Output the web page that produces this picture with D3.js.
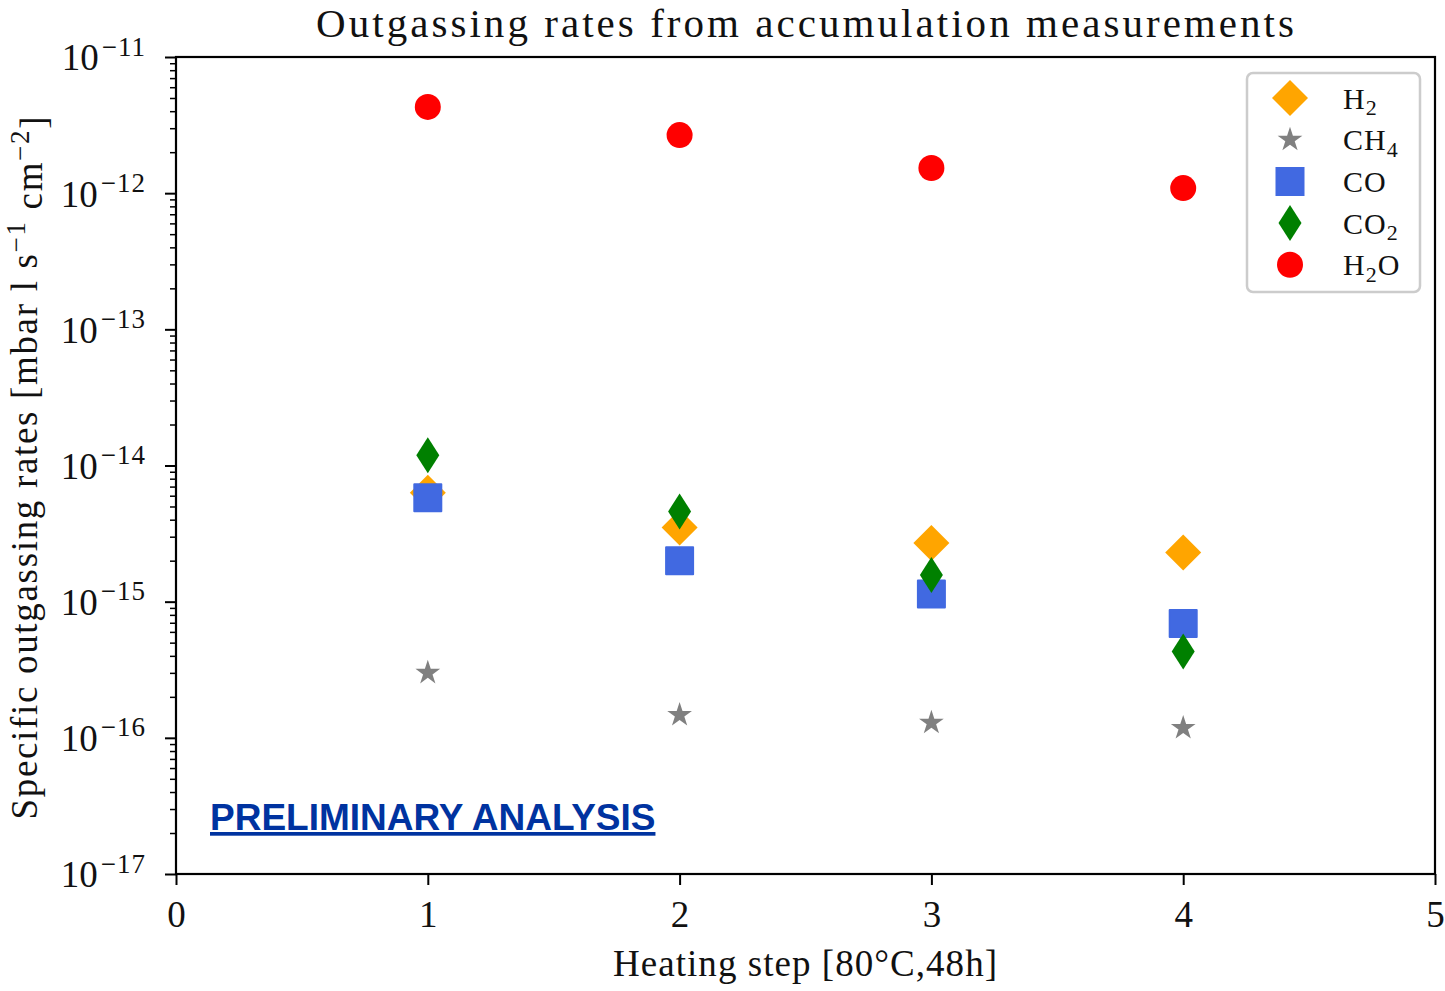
<!DOCTYPE html>
<html>
<head>
<meta charset="utf-8">
<script src="https://cdn.jsdelivr.net/npm/d3@7"></script>
<style>
  body { margin: 0; background: #fff; }
  text { font-family: "Liberation Serif", "DejaVu Serif", serif; fill: #111; }
</style>
</head>
<body>
<svg id="chart"></svg>
<script>
// heating steps
const steps = [1, 2, 3, 4];

// specific outgassing rates [mbar l s^-1 cm^-2]
const h2  = [6.3e-15, 3.5e-15, 2.7e-15, 2.3e-15];
const ch4 = [3.0e-16, 1.47e-16, 1.29e-16, 1.18e-16];
const co  = [5.8e-15, 2.0e-15, 1.14e-15, 6.9e-16];
const co2 = [1.19e-14, 4.6e-15, 1.57e-15, 4.3e-16];
const h2o = [4.3e-12, 2.67e-12, 1.53e-12, 1.09e-12];

const xTicks = [0, 1, 2, 3, 4, 5];
const yExps  = [-11, -12, -13, -14, -15, -16, -17];

const series = [
  {name: 'H', sub: '2', after: '',  values: h2,  color: 'orange',    shape: 'diamond'},
  {name: 'CH', sub: '4', after: '', values: ch4, color: 'gray',      shape: 'star'},
  {name: 'CO', sub: '', after: '',  values: co,  color: 'royalblue', shape: 'square'},
  {name: 'CO', sub: '2', after: '', values: co2, color: 'green',     shape: 'thin_diamond'},
  {name: 'H', sub: '2', after: 'O', values: h2o, color: 'red',       shape: 'circle'}
];

const width = 1445, height = 991;
const margin = {top: 57, right: 10, bottom: 117, left: 176};
const iw = 1435 - margin.left, ih = 874 - margin.top;

const svg = d3.select('#chart').attr('width', width).attr('height', height);
const g = svg.append('g').attr('transform', `translate(${margin.left},${margin.top})`);

const x = d3.scaleLinear().domain([0, 5]).range([0, iw]);
const y = d3.scaleLog().domain([1e-17, 1e-11]).range([ih, 0]);

// minor ticks on the log axis
let minor = [];
for (let e = -17; e < -11; e++) {
  for (let m = 2; m <= 9; m++) minor.push(m * Math.pow(10, e));
}
g.append('g')
  .call(d3.axisLeft(y).tickValues(minor).tickSize(6).tickFormat(''))
  .call(a => a.select('.domain').remove())
  .selectAll('line').attr('stroke', '#000').attr('stroke-width', 1.5);

const yAxis = g.append('g')
  .call(d3.axisLeft(y).tickValues(yExps.map(e => Math.pow(10, e))).tickSize(11).tickPadding(19).tickFormat(''));
yAxis.select('.domain').remove();
yAxis.selectAll('line').attr('stroke', '#000').attr('stroke-width', 2);
yAxis.selectAll('.tick text')
  .attr('fill', '#111').attr('font-family', null)
  .style('font-size', '37px')
  .attr('dy', '0.35em')
  .each(function(d) {
    const t = d3.select(this);
    const e = Math.round(Math.log10(d));
    t.append('tspan').text('10');
    t.append('tspan').attr('dx', 3).attr('dy', '-0.55em').style('font-size', '27px')
      .attr('letter-spacing', 1).text('\u2212' + (-e));
  });

const xAxis = g.append('g')
  .attr('transform', `translate(0,${ih})`)
  .call(d3.axisBottom(x).tickValues(xTicks).tickSize(11).tickPadding(16).tickFormat(d3.format('d')));
xAxis.select('.domain').remove();
xAxis.selectAll('line').attr('stroke', '#000').attr('stroke-width', 2);
xAxis.selectAll('text').attr('fill', '#111').attr('font-family', null).style('font-size', '37px');

// frame
g.append('rect')
  .attr('width', iw).attr('height', ih)
  .attr('fill', 'none').attr('stroke', '#000').attr('stroke-width', 2.2);

// marker shapes
function shapePath(shape) {
  if (shape === 'diamond') return 'M0,-18L18,0L0,18L-18,0Z';
  if (shape === 'thin_diamond') return 'M0,-18L11.5,0L0,18L-11.5,0Z';
  if (shape === 'square') return 'M-13.5,-13.5H13.5V13.5H-13.5Z';
  if (shape === 'circle') return d3.symbol(d3.symbolCircle, Math.PI * 13 * 13)();
  if (shape === 'star') {
    const pts = [];
    for (let i = 0; i < 10; i++) {
      const r = i % 2 === 0 ? 13 : 13 * 0.382;
      const a = -Math.PI / 2 + i * Math.PI / 5;
      pts.push([r * Math.cos(a), r * Math.sin(a)]);
    }
    return 'M' + pts.join('L') + 'Z';
  }
}

series.forEach(s => {
  g.append('g').selectAll('path')
    .data(s.values)
    .join('path')
    .attr('d', shapePath(s.shape))
    .attr('transform', (d, i) => `translate(${x(steps[i])},${y(d)})`)
    .attr('fill', s.color)
    .attr('stroke', s.shape === 'square' ? s.color : 'none')
    .attr('stroke-linejoin', 'round')
    .attr('stroke-width', 2);
});

// legend
const legend = svg.append('g').attr('transform', 'translate(1247,73)');
legend.append('rect')
  .attr('width', 173).attr('height', 219).attr('rx', 6)
  .attr('fill', '#fff').attr('stroke', '#ccc').attr('stroke-width', 2.5);
series.forEach((s, i) => {
  const row = legend.append('g').attr('transform', `translate(0,${25 + i * 41.7})`);
  row.append('path')
    .attr('d', shapePath(s.shape))
    .attr('transform', 'translate(43,0)')
    .attr('fill', s.color)
    .attr('stroke', s.shape === 'square' ? s.color : 'none')
    .attr('stroke-width', 2);
  const t = row.append('text').attr('x', 96).attr('dy', '0.35em').style('font-size', '30px')
    .attr('letter-spacing', 1);
  t.append('tspan').text(s.name);
  if (s.sub) t.append('tspan').attr('dy', '0.3em').style('font-size', '22px').text(s.sub);
  if (s.after) t.append('tspan').attr('dy', '-0.22em').text(s.after);
});

// title and axis labels
svg.append('text')
  .attr('x', 805).attr('y', 37)
  .attr('text-anchor', 'middle')
  .attr('textLength', 978).attr('lengthAdjust', 'spacing')
  .style('font-size', '41px')
  .text('Outgassing rates from accumulation measurements');

svg.append('text')
  .attr('x', 805).attr('y', 976)
  .attr('text-anchor', 'middle')
  .attr('textLength', 384).attr('lengthAdjust', 'spacing')
  .style('font-size', '37px')
  .text('Heating step [80\u00b0C,48h]');

const yl = svg.append('text')
  .attr('transform', 'translate(37,468) rotate(-90)')
  .attr('text-anchor', 'middle')
  .attr('textLength', 703).attr('lengthAdjust', 'spacing')
  .style('font-size', '37px');
yl.append('tspan').text('Specific outgassing rates [mbar l s');
yl.append('tspan').attr('dy', '-0.45em').style('font-size', '27px').text('\u22121');
yl.append('tspan').attr('dy', '0.45em').text(' cm');
yl.append('tspan').attr('dy', '-0.45em').style('font-size', '27px').text('\u22122');
yl.append('tspan').attr('dy', '0.45em').text(']');

// watermark
svg.append('text')
  .attr('x', 210).attr('y', 830)
  .style('font-family', '"Liberation Sans", Arial, sans-serif')
  .style('font-weight', 'bold')
  .style('font-size', '37px')
  .style('fill', '#0033a0')
  .style('text-decoration', 'underline')
  .text('PRELIMINARY ANALYSIS');
</script>
</body>
</html>
